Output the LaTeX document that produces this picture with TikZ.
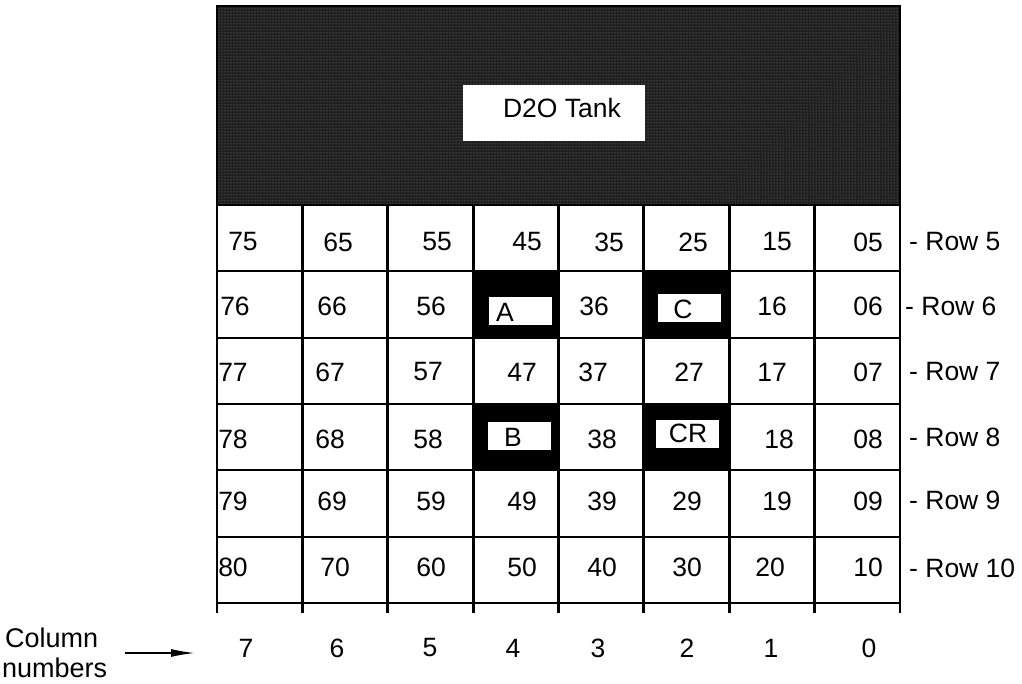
\documentclass[tikz,border=0pt]{standalone}
\usepackage{fontspec}
\setmainfont{Liberation Sans}
\usetikzlibrary{positioning,arrows.meta,patterns}

\begin{document}
\begin{tikzpicture}[x=1pt, y=-1pt,
    every node/.style={inner sep=0pt, font=\fontsize{26.5}{30}\selectfont},
    gridline/.style={line width=2.8pt},
    tag/.style={fill=white, minimum width=63pt, minimum height=28pt}]
  \useasboundingbox (0,0) rectangle (1022,684);
  % tank
  \fill[black!88] (217,6) rectangle (900,205);
  \fill[pattern=dots, pattern color=black!45] (217,6) rectangle (900,205);
  \draw[gridline] (217,6) rectangle (900,205);
  \node (tankbox) [fill=white, minimum width=182pt, minimum height=56pt] at (554,113) {};
  \node (tanklbl) at (562,108) {D2O Tank};
  % blacked-out positions
  \fill (474,271) rectangle (560,338);
  \fill (644,271) rectangle (729,338);
  \fill (474,404) rectangle (560,470);
  \fill (644,404) rectangle (729,470);
  \node (tagA) [tag] at (520,311) {};
  \node (tagC) [tag] at (689,308) {};
  \node (tagB) [tag] at (519,436) {};
  \node (tagCR) [tag] at (687,434) {};
  \node (labA) at (505,312) {A};
  \node (labC) at (683,309) {C};
  \node (labB) at (513,437) {B};
  \node (labCR) at (688,433) {CR};
  % grid
  \foreach \y in {205,271,338,404,470,537,603}
    \draw[gridline] (217,\y) -- (900,\y);
  \foreach \i in {0,...,8}
    \draw[gridline] ({217+85.375*\i},205) -- ({217+85.375*\i},613);
  % cell numbers
  \foreach \yy/\cells in {
      242/{243/75,338/65,437/55,527/45,609/35,693/25,777/15,868/05},
      306/{235/76,332/66,431/56,594/36,772/16,868/06},
      372/{233/77,330/67,428/57,522/47,593/37,689/27,772/17,868/07},
      439/{233/78,330/68,428/58,602/38,779/18,868/08},
      501/{233/79,332/69,431/59,522/49,602/39,687/29,777/19,868/09},
      567/{233/80,335/70,431/60,522/50,602/40,687/30,770/20,868/10}}
    \foreach \xx/\t in \cells
      \node (n\t) at (\xx,\yy) {\t};
  % row labels
  \foreach \y/\r/\x in {242/5/909, 306/6/905, 372/7/909, 437/8/909, 500/9/909, 568/10/909}
    \node (row\r) [anchor=west] at (\x,\y) {- Row \r};
  % column numbers
  \foreach \x/\c in {246/7, 337/6, 430/5, 513/4, 598/3, 687/2, 771/1, 869/0}
    \node (col\c) at (\x,648) {\c};
  \node (colword) [anchor=base west, font=\fontsize{27}{30}\selectfont] at (5,647) {Column};
  \node (numword) [anchor=base west, font=\fontsize{27}{30}\selectfont] at (2,677) {numbers};
  \coordinate (arrs) at (125,653);
  \coordinate (arre) at (195,653);
  \draw[line width=1.6pt, -{Latex[length=24pt,width=8pt]}] (arrs) -- (arre);
\end{tikzpicture}
\end{document}
